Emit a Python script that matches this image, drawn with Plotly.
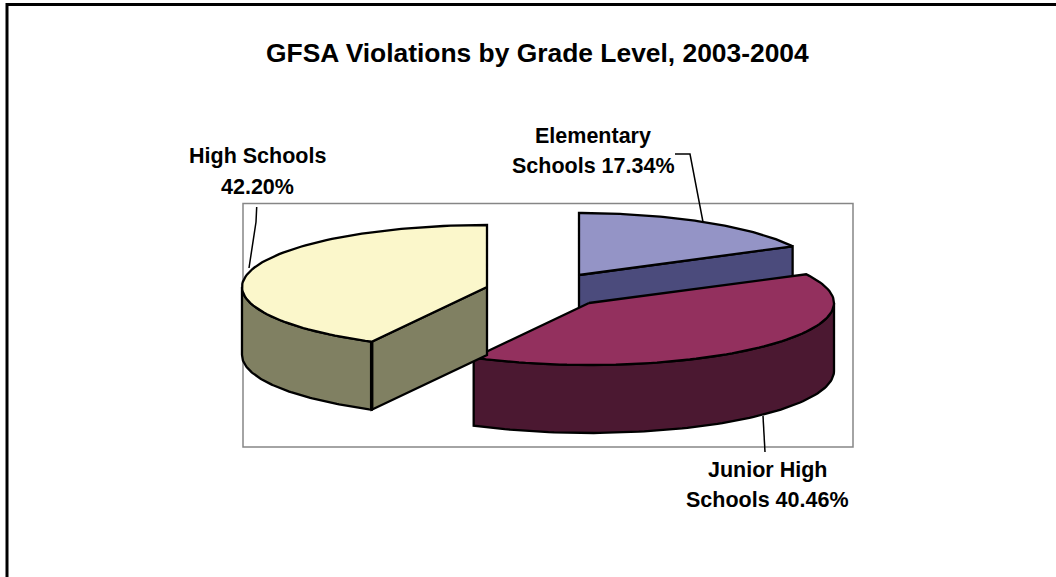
import numpy as np
import plotly.graph_objects as go

# ---- data ----
categories = ["Elementary Schools", "Junior High Schools", "High Schools"]
values = [17.34, 40.46, 42.20]
top_colors = ["#9494C6", "#93305E", "#FBF7CB"]
wall_colors = ["#4B4B7C", "#4B1831", "#808062"]
title_text = "GFSA Violations by Grade Level, 2003-2004"
label_lines = [["Elementary", "Schools 17.34%"], ["Junior High", "Schools 40.46%"], ["High Schools", "42.20%"]]

# ---- pie geometry (canvas pixels) ----
W, H = 1056, 577
RXS = [241, 245, 245]
RY, DEPTH = 62, 68
CENTERS = [(579, 275), (589, 303), (487, 287)]
LABEL_POS = [(593, 136, 166), (767, 470, 500), (257, 156, 187)]
LABEL_SIZE = 21.5
TITLE_SIZE = 26.4


def arc(c, rx, a, b, dy=0):
    t = np.radians(np.linspace(a, b, 90))
    return c[0] + rx * np.sin(t), c[1] - RY * np.cos(t) + dy


def poly(fig, xs, ys, fill, name, width=2.3):
    fig.add_trace(go.Scatter(
        x=np.append(xs, xs[0]), y=np.append(ys, ys[0]), mode="lines", fill="toself",
        fillcolor=fill, line=dict(color="black", width=width), name=name,
        hoverinfo="name", showlegend=False))


fig = go.Figure()

# angular extents from the values
starts = np.cumsum([0] + values[:-1]) * 3.6
ends = np.cumsum(values) * 3.6

for i in range(3):
    c, a, b, rx = CENTERS[i], starts[i], ends[i], RXS[i]
    name = categories[i]
    tf, wf = top_colors[i], wall_colors[i]
    # radial faces seen from the viewer
    if i == 0:
        ex, ey = arc(c, rx, b, b)
        poly(fig, np.array([c[0], ex[0], ex[0], c[0]]),
             np.array([c[1], ey[0], ey[0] + DEPTH, c[1] + DEPTH]), wf, name)
    if i == 2:
        ex, ey = arc(c, rx, a, a)
        poly(fig, np.array([c[0], ex[0], ex[0], c[0]]),
             np.array([c[1], ey[0], ey[0] + DEPTH, c[1] + DEPTH]), wf, name)
    # outer wall: the front part of the rim only
    w0, w1 = max(a, 90), min(b, 270)
    if w1 > w0:
        x0, y0 = arc(c, rx, w0, w1)
        x1, y1 = arc(c, rx, w1, w0, DEPTH)
        poly(fig, np.concatenate([x0, x1]), np.concatenate([y0, y1]), wf, name)
    # top face
    xa, ya = arc(c, rx, a, b)
    poly(fig, np.concatenate([[c[0]], xa]), np.concatenate([[c[1]], ya]), tf, name)
    if i == 2:
        ex, ey = arc(c, rx, a, a)
        fig.add_trace(go.Scatter(x=[ex[0], ex[0]], y=[ey[0], ey[0] + DEPTH], mode="lines",
                                 line=dict(color="black", width=3.5), hoverinfo="skip", showlegend=False))

shapes = [
    dict(type="rect", x0=243, y0=203.5, x1=853, y1=447, line=dict(color="#868686", width=1.5), layer="below"),
    dict(type="line", x0=7, y0=4.5, x1=1056, y1=4.5, line=dict(color="black", width=3)),
    dict(type="line", x0=7, y0=3, x1=7, y1=577, line=dict(color="black", width=3)),
    dict(type="path", path="M 256.7 207 L 256 222 L 249 268", line=dict(color="black", width=1.5)),
    dict(type="path", path="M 675 154 L 690 154 L 703 222", line=dict(color="black", width=1.5)),
    dict(type="path", path="M 763 416 L 765 452", line=dict(color="black", width=1.5)),
]

annotations = [dict(x=537, y=53, text=f"<b>{title_text}</b>", showarrow=False,
                    xanchor="center", yanchor="middle",
                    font=dict(family="Liberation Sans", size=TITLE_SIZE, color="black"))]
for lines, (cx, y1, y2) in zip(label_lines, LABEL_POS):
    for line, y in zip(lines, (y1, y2)):
        annotations.append(dict(x=cx, y=y, text=f"<b>{line}</b>", showarrow=False,
                                xanchor="center", yanchor="middle",
                                font=dict(family="Liberation Sans", size=LABEL_SIZE, color="black")))

fig.update_layout(
    width=W, height=H, margin=dict(l=0, r=0, t=0, b=0),
    paper_bgcolor="white", plot_bgcolor="white", showlegend=False,
    xaxis=dict(range=[0, W], visible=False, fixedrange=True),
    yaxis=dict(range=[H, 0], visible=False, fixedrange=True),
    shapes=shapes, annotations=annotations,
)
fig.write_html("out.html", config=dict(displayModeBar=False),
               post_script="document.body.style.margin='0';")
